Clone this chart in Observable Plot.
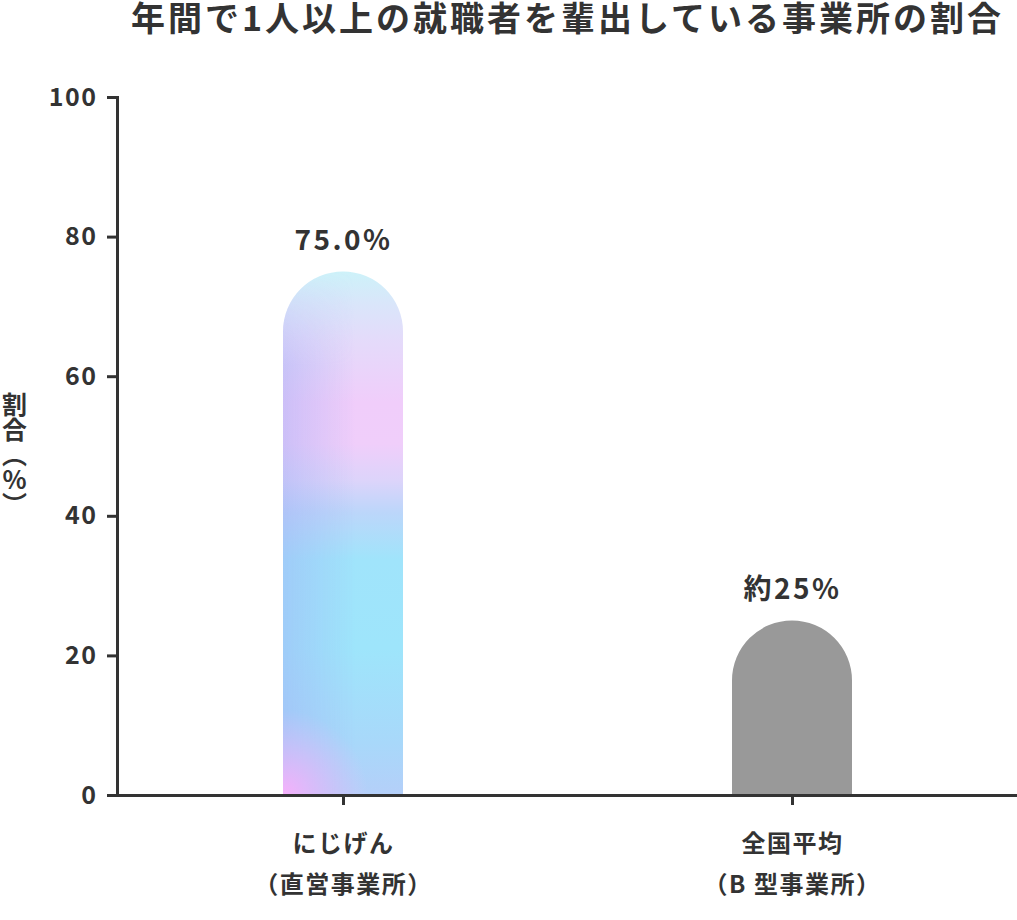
<!DOCTYPE html>
<html><head><meta charset="utf-8">
<script src="https://cdn.jsdelivr.net/npm/d3@7"></script>
<script src="https://cdn.jsdelivr.net/npm/@observablehq/plot@0.6"></script>
<style>body{margin:0;background:#fff;}</style>
</head><body><div id="chart"></div>
<script>
const categories = ["にじげん", "全国平均"];
const subLabels = ["（直営事業所）", "（B 型事業所）"];
const values = [75, 25];
const valueLabels = ["75.0%", "約25%"];
const yTicks = [0, 20, 40, 60, 80, 100];
const title = "年間で1人以上の就職者を輩出している事業所の割合";
const yLabel = "割合（%）";

const data = categories.map((c, i) => ({category: c, value: values[i], label: valueLabels[i]}));
const font = "'Noto Sans CJK JP', 'Noto Sans', sans-serif";
const ink = "#333333";

const plot = Plot.plot({
  width: 1017, height: 920,
  marginLeft: 117, marginRight: 0, marginTop: 97, marginBottom: 125,
  style: {fontFamily: font, background: "#fff", color: ink},
  x: {domain: categories, paddingInner: 0.7333, paddingOuter: 0.3667, label: null, axis: null},
  y: {domain: [0, 100], label: null, axis: null},
  marks: [
    Plot.barY(data.slice(0, 1), {x: "category", y: "value", fill: "url(#grad-main)"}),
    Plot.barY(data.slice(1), {x: "category", y: "value", fill: "#999999"}),
    Plot.ruleY([0], {stroke: ink, strokeWidth: 3, insetLeft: -10}),
    Plot.frame({anchor: "left", stroke: ink, strokeWidth: 3}),
    Plot.axisY(yTicks, {tickSize: 10, tickPadding: 10, fontSize: 25, fontWeight: "bold", strokeWidth: 3, label: null, fill: ink}),
    Plot.axisX({tickSize: 10, tickPadding: 17, fontSize: 24, fontWeight: "bold", strokeWidth: 3, lineHeight: 1.72, label: null, fill: ink,
      tickFormat: d => d + "\n" + subLabels[categories.indexOf(d)]}),
    Plot.text(data, {x: "category", y: "value", text: "label", dy: -31, fontSize: 28, fontWeight: "bold", fill: ink}),
    Plot.text([title], {frameAnchor: "top", lineAnchor: "middle", dy: -77, fontSize: 34, fontWeight: "bold", fill: ink}),
    Plot.text([yLabel], {frameAnchor: "left", textAnchor: "middle", dx: -103, fontSize: 25, fontWeight: "bold", fill: ink})
  ]
});

const svg = d3.select(plot);
const defs = svg.insert("defs", ":first-child");

// base vertical gradient
const g1 = defs.append("linearGradient").attr("id", "grad-main").attr("x1", 0).attr("y1", 0).attr("x2", 0).attr("y2", 1);
[[0.0, "#cdf2f9"], [0.06, "#d9e6fa"], [0.13, "#e4dbfa"], [0.25, "#f0cdfa"], [0.33, "#f0cefa"],
 [0.40, "#dcd4fa"], [0.46, "#bcd6fa"], [0.55, "#a0e4fb"], [0.72, "#9ee5fb"], [0.90, "#a8d8fa"], [1.0, "#b4cff9"]]
  .forEach(([o, c]) => g1.append("stop").attr("offset", o).attr("stop-color", c));

// left-side blue/lavender overlay, faded toward the top
const g2 = defs.append("linearGradient").attr("id", "grad-left").attr("x1", 0).attr("y1", 0).attr("x2", 1).attr("y2", 0);
g2.append("stop").attr("offset", 0).attr("stop-color", "#a0aef5").attr("stop-opacity", 0.45);
g2.append("stop").attr("offset", 0.6).attr("stop-color", "#a0aef5").attr("stop-opacity", 0);
const m = defs.append("linearGradient").attr("id", "fade-top").attr("x1", 0).attr("y1", 0).attr("x2", 0).attr("y2", 1);
m.append("stop").attr("offset", 0).attr("stop-color", "#000");
m.append("stop").attr("offset", 0.18).attr("stop-color", "#fff");
m.append("stop").attr("offset", 1).attr("stop-color", "#fff");

function roundTop(nodes, extra) {
  nodes.forEach(node => {
    const r = d3.select(node);
    const x = +r.attr("x"), y = +r.attr("y"), w = +r.attr("width"), h = +r.attr("height");
    const rad = w / 2;
    const d = `M${x},${y + h}V${y + rad}A${rad},${rad} 0 0 1 ${x + w},${y + rad}V${y + h}Z`;
    const parent = node.parentNode;
    const ns = "http://www.w3.org/2000/svg";
    const mk = fill => {
      const p = document.createElementNS(ns, "path");
      p.setAttribute("d", d);
      if (fill) p.setAttribute("fill", fill);
      parent.insertBefore(p, node);
      return p;
    };
    mk(null);
    if (extra) extra(mk, x, y, w, h);
    parent.removeChild(node);
  });
}

const mainRects = svg.selectAll('g[fill="url(#grad-main)"] rect').nodes();
const avgRects = svg.selectAll('g[fill="#999999"] rect').nodes();

roundTop(mainRects, (mk, x, y, w, h) => {
  const mask = defs.append("mask").attr("id", "mask-top").attr("maskUnits", "userSpaceOnUse")
    .attr("x", x).attr("y", y).attr("width", w).attr("height", h);
  mask.append("rect").attr("x", x).attr("y", y).attr("width", w).attr("height", h).attr("fill", "url(#fade-top)");
  mk("url(#grad-left)").setAttribute("mask", "url(#mask-top)");
  const rg = defs.append("radialGradient").attr("id", "grad-pink").attr("gradientUnits", "userSpaceOnUse")
    .attr("cx", x).attr("cy", y + h).attr("r", 85);
  rg.append("stop").attr("offset", 0).attr("stop-color", "#f6b0fb").attr("stop-opacity", 1);
  rg.append("stop").attr("offset", 0.4).attr("stop-color", "#f0b6fa").attr("stop-opacity", 0.6);
  rg.append("stop").attr("offset", 1).attr("stop-color", "#e8c0fa").attr("stop-opacity", 0);
  mk("url(#grad-pink)");
});
roundTop(avgRects);

const texts = svg.selectAll("text");
texts.filter(function () { return this.textContent === title; }).style("letter-spacing", "3px");
texts.filter(function () { return valueLabels.includes(this.textContent); }).style("letter-spacing", "2.5px");
texts.filter(function () { return this.textContent === yLabel; })
  .style("writing-mode", "vertical-rl").style("text-orientation", "upright")
  .attr("dy", null).attr("text-anchor", "middle");
texts.filter(function () { return yTicks.map(String).includes(this.textContent); }).style("letter-spacing", "1.5px");
svg.selectAll("text").filter(function () { return categories.some(c => this.textContent.startsWith(c)); }).style("letter-spacing", "1.5px");

document.getElementById("chart").appendChild(plot);
</script>
</body></html>
